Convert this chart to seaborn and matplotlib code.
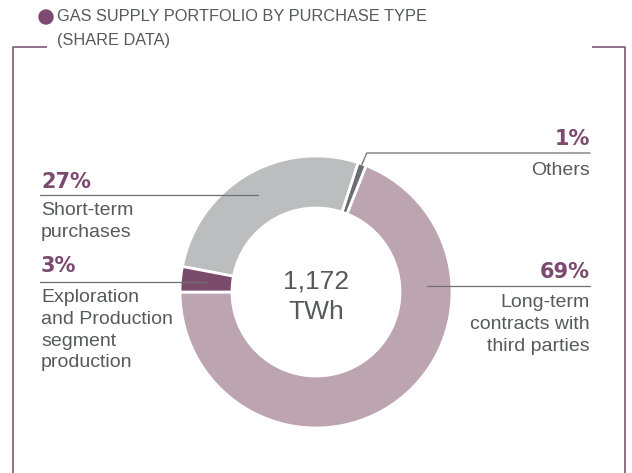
import numpy as np
import matplotlib
matplotlib.use("Agg")
import matplotlib.pyplot as plt
import seaborn as sns

# Data
categories = ["Long-term\ncontracts with\nthird parties", "Others", "Short-term\npurchases",
              "Exploration\nand Production\nsegment\nproduction"]
shares = [69, 1, 27, 3]
total_text = "1,172\nTWh"
title_text = "GAS SUPPLY PORTFOLIO BY PURCHASE TYPE\n(SHARE DATA)"

# Style
sns.set_theme(style="white")
plt.rcParams['font.family'] = ['Liberation Sans', 'DejaVu Sans']
slice_colors = ["#bda4b1", "#6d6e71", "#bcbdbf", "#7b4b6c"]
purple = "#7b4a6e"
text_gray = "#58595b"
line_gray = "#6d6e71"

W, H = 632, 473
fig = plt.figure(figsize=(W / 100, H / 100), dpi=100)
ax = fig.add_axes([0, 0, 1, 1])

def Y(py):
    # pixel row (from top) -> data y
    return H - py

cx, cy, r_out, ring = 316, 292, 136, 52
wedges, _ = ax.pie(shares, colors=slice_colors, startangle=180, counterclock=True,
                   radius=r_out, center=(cx, Y(cy)),
                   wedgeprops=dict(width=ring, edgecolor="white", linewidth=2))
ax.set_xlim(0, W)
ax.set_ylim(0, H)
ax.set_aspect("auto")
ax.axis("off")

ax.text(cx, Y(297), total_text, ha="center", va="center", fontsize=19,
        color=text_gray, linespacing=1.35)

def anchor(w, radius, angle=None):
    if angle is None:
        angle = (w.theta1 + w.theta2) / 2
    a = np.deg2rad(angle)
    return cx + radius * np.cos(a), Y(cy) + radius * np.sin(a)

# label layout: (index, side, pct baseline, line y, desc top, anchor radius, anchor angle)
layout = [
    (0, "right", 278, 286, 294, 111, 3),
    (1, "right", 145, 153, 162, 135, None),
    (2, "left", 188, None, 202, 113, None),
    (3, "left", 272, None, 289, 110, None),
]
for i, side, pct_y, line_y, desc_y, rad, ang in layout:
    ax_, ay_ = anchor(wedges[i], rad, ang)
    pct = f"{shares[i]}%"
    if side == "left":
        x0 = 40
        ax.plot([x0, ax_], [ay_, ay_], color=line_gray, lw=0.9)
        ax.text(x0 + 1, Y(pct_y), pct, ha="left", va="baseline", fontsize=15,
                fontweight="bold", color=purple, family="DejaVu Sans")
        ax.text(x0 + 1, Y(desc_y), categories[i], ha="left", va="top", fontsize=14,
                color=text_gray, linespacing=1.37)
    else:
        x1 = 590
        if i == 1:
            ax.plot([ax_, ax_ + 5, x1], [ay_, Y(line_y), Y(line_y)], color=line_gray, lw=0.9)
        else:
            ax.plot([ax_, x1], [Y(line_y), Y(line_y)], color=line_gray, lw=0.9)
        ax.text(x1, Y(pct_y), pct, ha="right", va="baseline", fontsize=15,
                fontweight="bold", color=purple, family="DejaVu Sans")
        ax.text(x1, Y(desc_y), categories[i], ha="right", va="top", fontsize=14,
                color=text_gray, linespacing=1.37, multialignment="right")

# title with bullet
ax.add_patch(plt.Circle((46, Y(17)), 7, color=purple))
ax.text(57, Y(9), title_text, ha="left", va="top", fontsize=11.8, color=text_gray,
        linespacing=1.72)

# frame
frame_color = "#7e5a74"
ax.plot([47, 13, 13], [Y(47), Y(47), 0], color=frame_color, lw=1.2, solid_capstyle="butt")
ax.plot([592, 625, 625], [Y(47), Y(47), 0], color=frame_color, lw=1.2, solid_capstyle="butt")

fig.savefig("out.png", dpi=100)
